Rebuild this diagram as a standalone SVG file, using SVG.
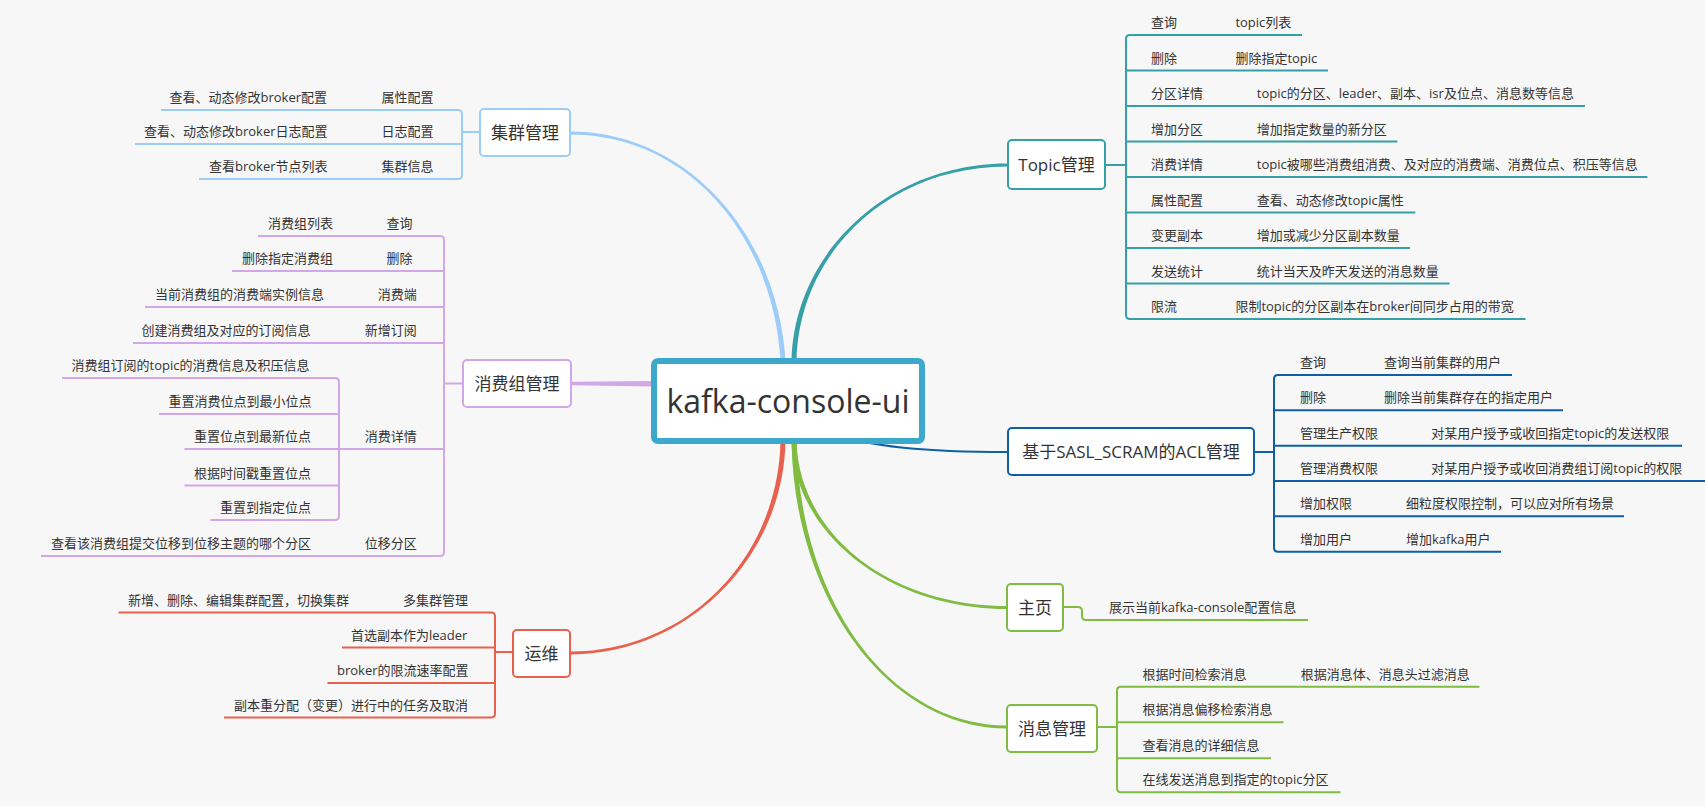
<svg xmlns="http://www.w3.org/2000/svg" width="1705" height="806" viewBox="0 0 1705 806">
<style>
text{font-family:"Open Sans","Noto Sans CJK SC",sans-serif;fill:#333}
.s{font-size:13px}
.m{font-size:17px;text-anchor:middle}
.c{font-size:32px;text-anchor:middle}
.ln{fill:none;stroke-width:2;stroke-linecap:butt}
.box{fill:#fff;stroke-width:2}
.lb{stroke:#9ccdfa}.vi{stroke:#d3a6ea}.rd{stroke:#e8614e}.tl{stroke:#36a0a8}.db{stroke:#0e5fa8}.gr{stroke:#7fbc41}
.flb{fill:#9ccdfa}.fvi{fill:#d3a6ea}.frd{fill:#e8614e}.ftl{fill:#36a0a8}.fgr{fill:#7fbc41}
</style>
<rect width="1705" height="806" fill="#f7f7f7"/>
<g id="connectors">
<!-- main curves -->
<path class="flb" d="M785.5 360 C777.5 234 687 131.5 570 131.5 L570 134.5 C687 134.5 772.5 234 780.5 360 Z"/>
<path class="ftl" d="M791.5 360 C794.5 252 889 163.5 1007 163.5 L1007 166.5 C889 166.5 799.5 252 796.5 360 Z"/>
<path class="fvi" d="M655 381 L571 381.8 L571 385.2 L655 386.5 Z"/>
<path class="frd" d="M785.5 442 C782.5 559 687 654.5 570 654.5 L570 651.5 C687 651.5 777.5 559 780.5 442 Z"/>
<path class="fgr" d="M791.5 442 C794.5 534 889 609 1007 609 L1007 606 C889 606 799.5 534 796.5 442 Z"/>
<path class="fgr" d="M791.5 442 C794.5 600 889 728.5 1007 728.5 L1007 725.5 C889 725.5 799.5 600 796.5 442 Z"/>
<path class="ln db" stroke-width="4" d="M820 430 C870 448 930 452 1008 452"/>
<!-- 集群管理 -->
<g class="ln lb">
<path d="M462 132 L480 132"/>
<path d="M458 110 Q462 110 462 114 L462 175 Q462 179 458 179"/>
<path d="M161 110 L458 110 M135 144 L462 144 M199 179 L458 179"/>
</g>
<!-- 消费组管理 -->
<g class="ln vi">
<path d="M444 383.5 L463 383.5"/>
<path d="M440 236 Q444 236 444 240 L444 552 Q444 556 440 556"/>
<path d="M258 236 L440 236 M232 271 L444 271 M145 307 L444 307 M133 343 L444 343 M184.5 449 L444 449 M41 556 L440 556"/>
<path d="M335 378 Q339 378 339 382 L339 516 Q339 520 335 520"/>
<path d="M62 378 L335 378 M159 414 L339 414 M184.5 485.5 L339 485.5 M210.5 520 L335 520"/>
</g>
<!-- 运维 -->
<g class="ln rd">
<path d="M495 652 L513 652"/>
<path d="M491 612.5 Q495 612.5 495 616.5 L495 713.5 Q495 717.5 491 717.5"/>
<path d="M118.6 612.5 L491 612.5 M342 647.5 L495 647.5 M327.5 683 L495 683 M224 717.5 L491 717.5"/>
</g>
<!-- Topic管理 -->
<g class="ln tl">
<path d="M1105 165 L1126 165"/>
<path d="M1130 35 Q1126 35 1126 39 L1126 315 Q1126 319 1130 319"/>
<path d="M1130 35 L1302 35 M1126 70.5 L1328 70.5 M1126 106 L1585 106 M1126 141.5 L1397.4 141.5 M1126 177 L1647.4 177 M1126 212.5 L1415.3 212.5 M1126 248 L1410 248 M1126 283.5 L1449.6 283.5 M1130 319 L1525.5 319"/>
</g>
<!-- ACL -->
<g class="ln db">
<path d="M1254 452 L1274 452"/>
<path d="M1278 375 Q1274 375 1274 379 L1274 547.7 Q1274 551.7 1278 551.7"/>
<path d="M1278 375 L1512 375 M1274 410.3 L1563 410.3 M1274 445.7 L1682 445.7 M1274 481 L1705 481 M1274 516.3 L1624 516.3 M1278 551.7 L1501 551.7"/>
</g>
<!-- 主页 -->
<g class="ln gr">
<path d="M1063 607 L1078 607 Q1082 607 1082 611 L1082 616 Q1082 620 1086 620 L1308 620"/>
</g>
<!-- 消息管理 -->
<g class="ln gr">
<path d="M1097 727 L1117 727"/>
<path d="M1121 686.7 Q1117 686.7 1117 690.7 L1117 788.3 Q1117 792.3 1121 792.3"/>
<path d="M1121 686.7 L1479.4 686.7 M1117 722.3 L1283.5 722.3 M1117 758.3 L1271 758.3 M1121 792.3 L1340.5 792.3"/>
</g>
</g>

<g id="root">
<rect x="654" y="361" width="268" height="80" rx="4" fill="#fff" stroke="#3ca8cc" stroke-width="6"/>
<text class="c" x="788" y="413">kafka-console-ui</text>
</g>

<!-- 集群管理 -->
<g id="n-cluster"><rect class="box lb" x="480" y="109" width="90" height="47" rx="4"/><text class="m" x="525" y="139">集群管理</text></g>
<g id="n-cluster-prop"><text class="s" x="381.5" y="102">属性配置</text></g>
<g id="n-cluster-prop-d"><text class="s" x="169.5" y="102">查看、动态修改broker配置</text></g>
<g id="n-cluster-log"><text class="s" x="381.5" y="136">日志配置</text></g>
<g id="n-cluster-log-d"><text class="s" x="144" y="136">查看、动态修改broker日志配置</text></g>
<g id="n-cluster-info"><text class="s" x="381.5" y="171">集群信息</text></g>
<g id="n-cluster-info-d"><text class="s" x="209" y="171">查看broker节点列表</text></g>

<!-- 消费组管理 -->
<g id="n-cg"><rect class="box vi" x="463" y="360" width="108" height="47" rx="4"/><text class="m" x="517" y="389.5">消费组管理</text></g>
<g id="n-cg-q"><text class="s" x="386.5" y="228">查询</text></g>
<g id="n-cg-q-d"><text class="s" x="268" y="228">消费组列表</text></g>
<g id="n-cg-del"><text class="s" x="386.5" y="263">删除</text></g>
<g id="n-cg-del-d"><text class="s" x="242" y="263">删除指定消费组</text></g>
<g id="n-cg-cons"><text class="s" x="377.7" y="299">消费端</text></g>
<g id="n-cg-cons-d"><text class="s" x="155" y="299">当前消费组的消费端实例信息</text></g>
<g id="n-cg-sub"><text class="s" x="364.7" y="335">新增订阅</text></g>
<g id="n-cg-sub-d"><text class="s" x="141.6" y="335">创建消费组及对应的订阅信息</text></g>
<g id="n-cg-detail"><text class="s" x="364.7" y="441">消费详情</text></g>
<g id="n-cg-detail-1"><text class="s" x="71.6" y="370">消费组订阅的topic的消费信息及积压信息</text></g>
<g id="n-cg-detail-2"><text class="s" x="168.4" y="406">重置消费位点到最小位点</text></g>
<g id="n-cg-detail-3"><text class="s" x="194" y="441">重置位点到最新位点</text></g>
<g id="n-cg-detail-4"><text class="s" x="194" y="477.5">根据时间戳重置位点</text></g>
<g id="n-cg-detail-5"><text class="s" x="220" y="512">重置到指定位点</text></g>
<g id="n-cg-offset"><text class="s" x="364.7" y="548">位移分区</text></g>
<g id="n-cg-offset-d"><text class="s" x="51" y="548">查看该消费组提交位移到位移主题的哪个分区</text></g>

<!-- 运维 -->
<g id="n-ops"><rect class="box rd" x="513" y="630" width="57" height="47" rx="4"/><text class="m" x="541.5" y="659.5">运维</text></g>
<g id="n-ops-multi"><text class="s" x="403" y="604.5">多集群管理</text></g>
<g id="n-ops-multi-d"><text class="s" x="128" y="604.5">新增、删除、编辑集群配置，切换集群</text></g>
<g id="n-ops-leader"><text class="s" x="351" y="639.5">首选副本作为leader</text></g>
<g id="n-ops-rate"><text class="s" x="337" y="675">broker的限流速率配置</text></g>
<g id="n-ops-reassign"><text class="s" x="234" y="709.5">副本重分配（变更）进行中的任务及取消</text></g>

<!-- Topic管理 -->
<g id="n-topic"><rect class="box tl" x="1008" y="140" width="97" height="49" rx="4"/><text class="m" x="1056.5" y="170.5">Topic管理</text></g>
<g id="n-topic-q"><text class="s" x="1151" y="27">查询</text><text class="s" x="1235.4" y="27">topic列表</text></g>
<g id="n-topic-del"><text class="s" x="1151" y="62.5">删除</text><text class="s" x="1235.4" y="62.5">删除指定topic</text></g>
<g id="n-topic-part"><text class="s" x="1151" y="98">分区详情</text><text class="s" x="1256.8" y="98">topic的分区、leader、副本、isr及位点、消息数等信息</text></g>
<g id="n-topic-add"><text class="s" x="1151" y="133.5">增加分区</text><text class="s" x="1256.8" y="133.5">增加指定数量的新分区</text></g>
<g id="n-topic-cons"><text class="s" x="1151" y="169">消费详情</text><text class="s" x="1256.8" y="169">topic被哪些消费组消费、及对应的消费端、消费位点、积压等信息</text></g>
<g id="n-topic-prop"><text class="s" x="1151" y="204.5">属性配置</text><text class="s" x="1256.8" y="204.5">查看、动态修改topic属性</text></g>
<g id="n-topic-rep"><text class="s" x="1151" y="240">变更副本</text><text class="s" x="1256.8" y="240">增加或减少分区副本数量</text></g>
<g id="n-topic-stat"><text class="s" x="1151" y="275.5">发送统计</text><text class="s" x="1256.8" y="275.5">统计当天及昨天发送的消息数量</text></g>
<g id="n-topic-throttle"><text class="s" x="1151" y="311">限流</text><text class="s" x="1235.4" y="311">限制topic的分区副本在broker间同步占用的带宽</text></g>

<!-- ACL -->
<g id="n-acl"><rect class="box db" x="1008" y="428" width="246" height="47" rx="4"/><text class="m" x="1131" y="457.5">基于SASL_SCRAM的ACL管理</text></g>
<g id="n-acl-q"><text class="s" x="1300" y="367">查询</text><text class="s" x="1384" y="367">查询当前集群的用户</text></g>
<g id="n-acl-del"><text class="s" x="1300" y="402.3">删除</text><text class="s" x="1384" y="402.3">删除当前集群存在的指定用户</text></g>
<g id="n-acl-prod"><text class="s" x="1300" y="437.7">管理生产权限</text><text class="s" x="1431.3" y="437.7">对某用户授予或收回指定topic的发送权限</text></g>
<g id="n-acl-cons"><text class="s" x="1300" y="473">管理消费权限</text><text class="s" x="1431.3" y="473">对某用户授予或收回消费组订阅topic的权限</text></g>
<g id="n-acl-addp"><text class="s" x="1300" y="508.3">增加权限</text><text class="s" x="1406" y="508.3">细粒度权限控制，可以应对所有场景</text></g>
<g id="n-acl-addu"><text class="s" x="1300" y="543.7">增加用户</text><text class="s" x="1406" y="543.7">增加kafka用户</text></g>

<!-- 主页 -->
<g id="n-home"><rect class="box gr" x="1007" y="584" width="56" height="47" rx="4"/><text class="m" x="1035" y="613.5">主页</text></g>
<g id="n-home-d"><text class="s" x="1109" y="612">展示当前kafka-console配置信息</text></g>

<!-- 消息管理 -->
<g id="n-msg"><rect class="box gr" x="1007" y="705" width="90" height="47" rx="4"/><text class="m" x="1052" y="734.5">消息管理</text></g>
<g id="n-msg-time"><text class="s" x="1142.6" y="678.7">根据时间检索消息</text><text class="s" x="1300.7" y="678.7">根据消息体、消息头过滤消息</text></g>
<g id="n-msg-offset"><text class="s" x="1142.6" y="714.3">根据消息偏移检索消息</text></g>
<g id="n-msg-detail"><text class="s" x="1142.6" y="750.3">查看消息的详细信息</text></g>
<g id="n-msg-send"><text class="s" x="1142.6" y="784.3">在线发送消息到指定的topic分区</text></g>
</svg>
